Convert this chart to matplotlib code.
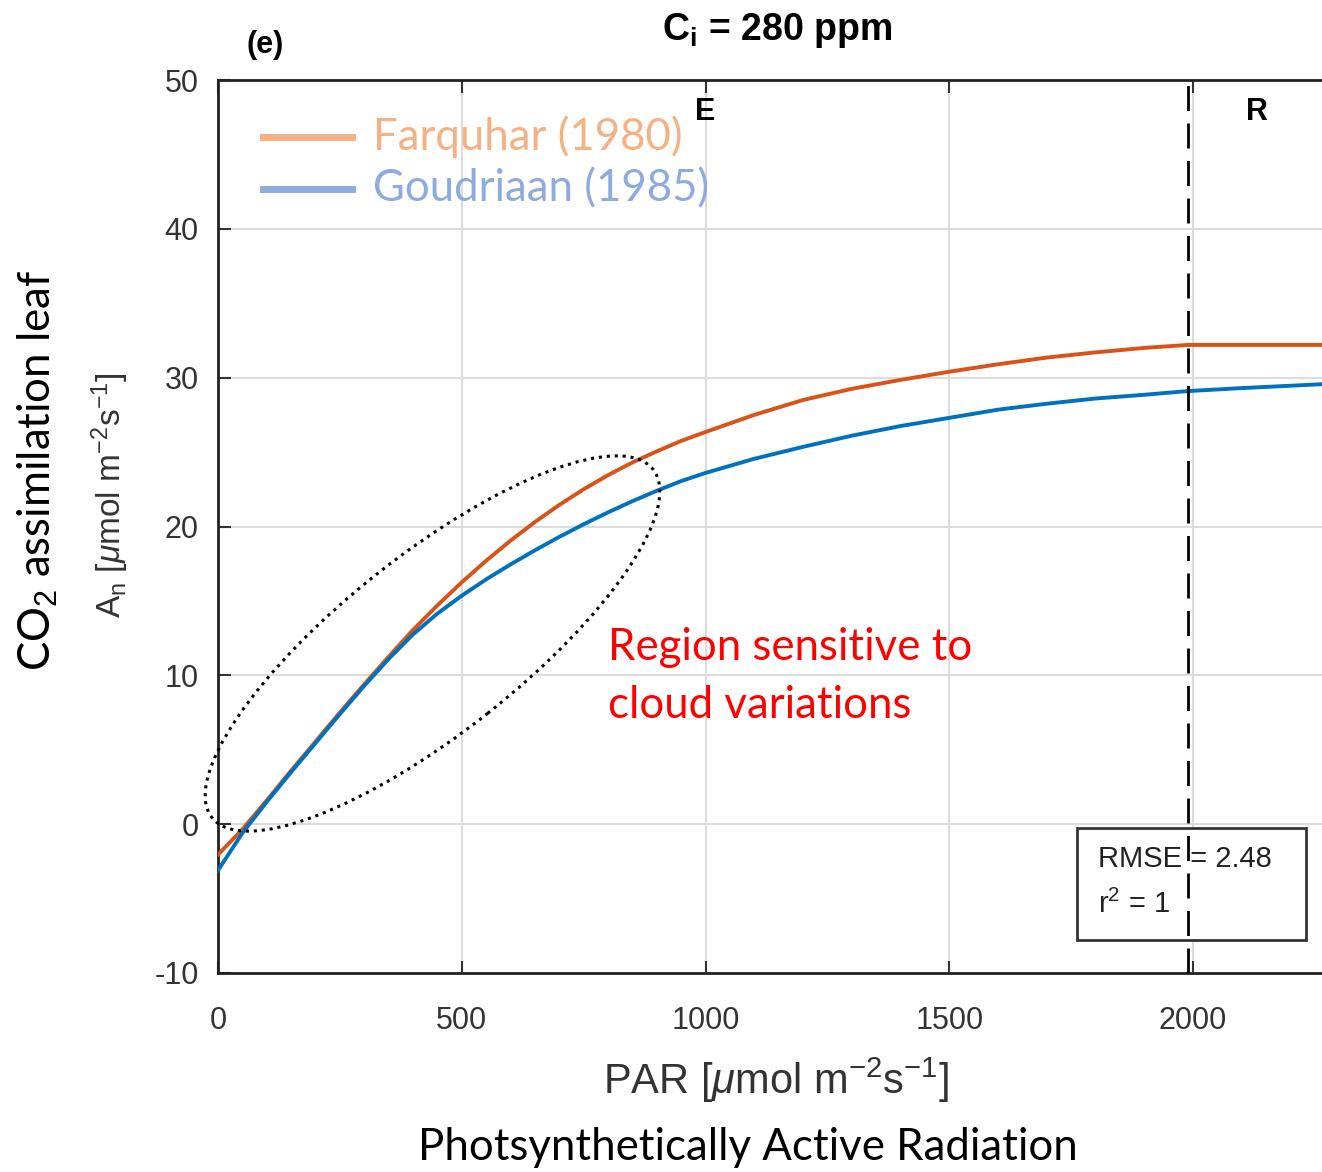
import matplotlib
matplotlib.use("Agg")
import matplotlib.pyplot as plt
from matplotlib.patches import Ellipse, Rectangle
from matplotlib.lines import Line2D

# ---- data ----
par = [0, 50, 100, 150, 200, 250, 300, 350, 400, 450, 500, 550, 600, 650, 700, 750,
       800, 850, 900, 950, 1000, 1100, 1200, 1300, 1400, 1500, 1600, 1700, 1800,
       1900, 1990, 2100, 2290]
farquhar = [-2.05, -0.35, 1.6, 3.6, 5.55, 7.5, 9.4, 11.25, 13.05, 14.7, 16.25, 17.7,
            19.05, 20.3, 21.45, 22.5, 23.45, 24.3, 25.05, 25.75, 26.35, 27.5, 28.5,
            29.25, 29.85, 30.4, 30.9, 31.35, 31.7, 32.0, 32.2, 32.2, 32.2]
goudriaan = [-3.1, -0.6, 1.5, 3.5, 5.45, 7.4, 9.3, 11.1, 12.75, 14.15, 15.35, 16.45,
             17.45, 18.4, 19.3, 20.15, 20.95, 21.7, 22.4, 23.05, 23.6, 24.55, 25.35,
             26.1, 26.75, 27.3, 27.85, 28.25, 28.6, 28.85, 29.1, 29.3, 29.6]
xticks = [0, 500, 1000, 1500, 2000]
yticks = [-10, 0, 10, 20, 30, 40, 50]
boundary_par = 1990
rmse_text = "RMSE = 2.48"
r2_text = "r$^2$ = 1"

W, H = 1322, 1172
plt.rcParams['mathtext.fontset'] = 'custom'
plt.rcParams['mathtext.rm'] = 'Liberation Sans'
plt.rcParams['mathtext.it'] = 'Liberation Sans:italic'
plt.rcParams['mathtext.bf'] = 'Liberation Sans:bold'
plt.rcParams['axes.unicode_minus'] = False
plt.rcParams['font.family'] = ['Liberation Sans', 'DejaVu Sans']

fig = plt.figure(figsize=(W / 100, H / 100), dpi=100)

def fx(x):
    return x / W

def fy(y):
    return 1 - y / H

ax_l, ax_r, ax_t, ax_b = 218, 1332, 80, 973
ax = fig.add_axes([fx(ax_l), fy(ax_b), (ax_r - ax_l) / W, (ax_b - ax_t) / H])
ax.set_xlim(0, (ax_r - ax_l) / 0.4875)
ax.set_ylim(-10, 50)

ax.grid(True, color='#DCDCDC', lw=1.5)
ax.set_axisbelow(True)
ax.set_xticks(xticks)
ax.set_yticks(yticks)
ax.tick_params(direction='in', length=9, width=1.5, top=True, right=False,
               labelsize=22, colors='#333333', pad=14)
ax.tick_params(axis='x', pad=24)
for s in ['left', 'bottom', 'top']:
    ax.spines[s].set_linewidth(2)
    ax.spines[s].set_color('#222222')
ax.spines['right'].set_visible(False)

ax.plot(par, farquhar, color='#D95319', lw=2.8, zorder=3, solid_joinstyle='round')
ax.plot(par, goudriaan, color='#0072BD', lw=2.8, zorder=3, solid_joinstyle='round')
ax.axvline(boundary_par, color='black', lw=2, dashes=(9, 4.5), zorder=4)

# RMSE box
ax.add_patch(Rectangle((1762, -7.8), 470, 7.55, fill=True, facecolor='white',
                       edgecolor='#333333', lw=2, zorder=2.5))
ax.text(1805, -2.35, rmse_text, fontsize=21, color='#222222', va='center', zorder=5)
ax.text(1805, -5.4, r2_text, fontsize=21, color='#222222', va='center', zorder=5)

# region letters
fig.text(fx(705), fy(112), "E", fontsize=22, fontweight='bold', ha='center', va='center')
fig.text(fx(1257), fy(112), "R", fontsize=22, fontweight='bold', ha='center', va='center')

# title and panel label
fig.text(fx(777), fy(30), r"C$_\mathbf{i}$ = 280 ppm", fontsize=27, fontweight='bold',
         ha='center', va='center')
fig.text(fx(265), fy(45), "(e)", fontsize=22, fontweight='bold', ha='center', va='center')

# axis labels
fig.text(fx(776), fy(1080), r"PAR [$\mathit{\mu}$mol m$^{-2}$s$^{-1}$]", fontsize=30,
         color='#333333', ha='center', va='center')
fig.text(fx(110), fy(495), r"A$_\mathrm{n}$ [$\mathit{\mu}$mol m$^{-2}$s$^{-1}$]",
         fontsize=24, color='#333333', ha='center', va='center', rotation=90)

cal = ['Lato', 'DejaVu Sans']
fig.text(fx(38), fy(470), r"CO$_2$ assimilation leaf", fontsize=31.5, family=cal,
         ha='center', va='center', rotation=90)
fig.text(fx(748), fy(1147), "Photsynthetically Active Radiation", fontsize=31.5, family=cal,
         ha='center', va='center')

# red annotation
fig.text(fx(608), fy(647), "Region sensitive to", fontsize=31.5, family=cal,
         color='#FF0000', ha='left', va='center')
fig.text(fx(608), fy(705), "cloud variations", fontsize=31.5, family=cal,
         color='#FF0000', ha='left', va='center')

# dotted ellipse (inches, figure coordinates)
ell = Ellipse((4.325, (H - 643.5) / 100), 5.62, 1.78, angle=38.3, fill=False,
              edgecolor='black', lw=2.2, linestyle=(0, (1, 1.6)),
              transform=fig.dpi_scale_trans, zorder=10)
fig.add_artist(ell)

# legend (manual)
legend_items = [("Farquhar (1980)", '#F4B183', 137), ("Goudriaan (1985)", '#8FAADC', 189)]
for label, col, ypx in legend_items:
    fig.add_artist(Line2D([fx(263), fx(352)], [fy(ypx), fy(ypx)], color=col, lw=5,
                          transform=fig.transFigure))
    fig.text(fx(373), fy(ypx), label, fontsize=31.5, family=cal, color=col,
             ha='left', va='center')

fig.savefig("out.png", dpi=100)
